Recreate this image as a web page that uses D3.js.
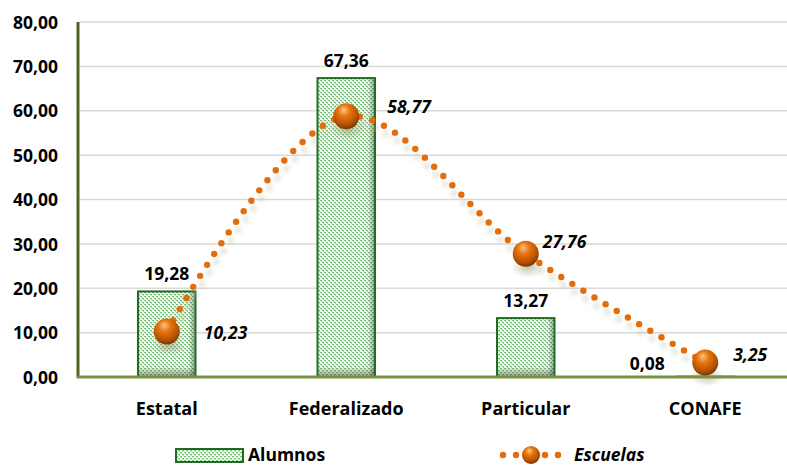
<!DOCTYPE html>
<html>
<head>
<meta charset="utf-8">
<script src="https://cdn.jsdelivr.net/npm/d3@7"></script>
<style>
  body { margin: 0; background: #fff; }
  svg text { font-family: "Open Sans", Lato, sans-serif; font-weight: bold; fill: #000; }
</style>
</head>
<body>
<div id="chart"></div>
<script>
(function(){

  var categories = ['Estatal', 'Federalizado', 'Particular', 'CONAFE'];
  var alumnos = [19.28, 67.36, 13.27, 0.08];
  var escuelas = [10.23, 58.77, 27.76, 3.25];
  var yTicks = [0, 10, 20, 30, 40, 50, 60, 70, 80];

  // where Excel put each "Escuelas" label, relative to its point
  var escLabelOffset = [[37, 7], [41, -3], [17, -6], [28, -2]];

  var fmt = function(v) { return d3.format('.2f')(v).replace('.', ','); };

  var width = 787, height = 467;
  var svg = d3.select('#chart')
    .append('svg')
    .attr('width', width)
    .attr('height', height);

  var defs = svg.append('defs');

  // bar texture
  var pat = defs.append('pattern')
    .attr('id', 'weave')
    .attr('patternUnits', 'userSpaceOnUse')
    .attr('width', 4)
    .attr('height', 4);
  pat.append('rect').attr('width', 4).attr('height', 4).attr('fill', '#eef7ee');
  pat.append('rect').attr('x', 0).attr('y', 0).attr('width', 2).attr('height', 1).attr('fill', '#7dbb7d');
  pat.append('rect').attr('x', 2).attr('y', 2).attr('width', 2).attr('height', 1).attr('fill', '#7dbb7d');
  pat.append('rect').attr('x', 1).attr('y', 1).attr('width', 1).attr('height', 1).attr('fill', '#b0d8b0');
  pat.append('rect').attr('x', 3).attr('y', 3).attr('width', 1).attr('height', 1).attr('fill', '#b0d8b0');

  var shade = defs.append('linearGradient')
    .attr('id', 'barShade').attr('x1', 0).attr('y1', 0).attr('x2', 0).attr('y2', 1);
  shade.append('stop').attr('offset', '0%').attr('stop-color', '#000').attr('stop-opacity', 0);
  shade.append('stop').attr('offset', '100%').attr('stop-color', '#000').attr('stop-opacity', 0.35);

  var side = defs.append('linearGradient')
    .attr('id', 'barSide').attr('x1', 0).attr('y1', 0).attr('x2', 1).attr('y2', 0);
  side.append('stop').attr('offset', '0%').attr('stop-color', '#000').attr('stop-opacity', 0);
  side.append('stop').attr('offset', '100%').attr('stop-color', '#000').attr('stop-opacity', 0.3);

  var ball = defs.append('radialGradient')
    .attr('id', 'ball').attr('cx', '45%').attr('cy', '35%').attr('r', '65%')
    .attr('fx', '40%').attr('fy', '25%');
  ball.append('stop').attr('offset', '0%').attr('stop-color', '#fbc58a');
  ball.append('stop').attr('offset', '35%').attr('stop-color', '#e8760f');
  ball.append('stop').attr('offset', '80%').attr('stop-color', '#b04f02');
  ball.append('stop').attr('offset', '100%').attr('stop-color', '#7a3500');

  var shadowGrad = defs.append('radialGradient').attr('id', 'ballShadow');
  shadowGrad.append('stop').attr('offset', '0%').attr('stop-color', '#8a8a5a').attr('stop-opacity', 0.45);
  shadowGrad.append('stop').attr('offset', '100%').attr('stop-color', '#8a8a5a').attr('stop-opacity', 0);

  var blur = defs.append('filter').attr('id', 'dotShadow')
    .attr('x', '-50%').attr('y', '-50%').attr('width', '200%').attr('height', '200%');
  blur.append('feGaussianBlur').attr('stdDeviation', 2);

  var x = d3.scaleBand()
    .domain(categories)
    .range([77, 795])
    .paddingInner(0.68)
    .paddingOuter(0.34);

  var y = d3.scaleLinear()
    .domain([0, 80])
    .range([377, 22]);

  var cx = function(d) { return x(d) + x.bandwidth() / 2; };

  // grid
  svg.append('g')
    .selectAll('line')
    .data(yTicks.slice(1))
    .enter()
    .append('line')
    .attr('x1', 79).attr('x2', width)
    .attr('y1', function(d) { return y(d); })
    .attr('y2', function(d) { return y(d); })
    .attr('stroke', '#d9d9d9')
    .attr('stroke-width', 1.5);

  // y axis
  var yAxis = svg.append('g')
    .attr('transform', 'translate(79,0)')
    .call(d3.axisLeft(y).tickValues(yTicks).tickFormat(fmt).tickSize(0).tickPadding(21));
  yAxis.select('.domain').remove();
  yAxis.selectAll('text').style('font-size', '17.5px').attr('dy', '0.35em');

  svg.append('line')
    .attr('x1', 78).attr('x2', 78)
    .attr('y1', 22).attr('y2', 378)
    .attr('stroke', '#4f6228').attr('stroke-width', 3);

  // bars
  var bars = svg.append('g');
  bars.selectAll('rect.bar')
    .data(alumnos)
    .enter()
    .append('rect')
    .attr('class', 'bar')
    .attr('x', function(d, i) { return x(categories[i]); })
    .attr('y', function(d) { return y(d); })
    .attr('width', x.bandwidth())
    .attr('height', function(d) { return y(0) - y(d); })
    .attr('fill', 'url(#weave)')
    .attr('stroke', '#1f6b1f')
    .attr('stroke-width', 2);
  bars.selectAll('rect.side')
    .data(alumnos)
    .enter()
    .append('rect')
    .attr('class', 'side')
    .attr('x', function(d, i) { return x(categories[i]) + x.bandwidth() - 7; })
    .attr('y', function(d) { return y(d) + 1; })
    .attr('width', 6)
    .attr('height', function(d) { return Math.max(0, y(0) - y(d) - 1); })
    .attr('fill', 'url(#barSide)');
  bars.selectAll('rect.shade')
    .data(alumnos)
    .enter()
    .append('rect')
    .attr('class', 'shade')
    .attr('x', function(d, i) { return x(categories[i]) + 1; })
    .attr('y', function(d) { return Math.max(y(d) + 1, y(0) - 10); })
    .attr('width', x.bandwidth() - 2)
    .attr('height', function(d) { return Math.min(10, Math.max(0, y(0) - y(d) - 1)); })
    .attr('fill', 'url(#barShade)');

  // x baseline
  svg.append('line')
    .attr('x1', 77).attr('x2', width)
    .attr('y1', y(0)).attr('y2', y(0))
    .attr('stroke', '#77933c').attr('stroke-width', 3);

  // x axis labels
  svg.append('g')
    .selectAll('text')
    .data(categories)
    .enter()
    .append('text')
    .attr('x', cx)
    .attr('y', 415)
    .attr('text-anchor', 'middle')
    .style('font-size', '18px')
    .text(function(d) { return d; });

  // bar value labels
  svg.append('g')
    .selectAll('text')
    .data(alumnos)
    .enter()
    .append('text')
    .attr('x', function(d, i) { return cx(categories[i]) + (i === 3 ? -58 : 0); })
    .attr('y', function(d, i) { return i === 3 ? 370 : y(d) - 11; })
    .attr('text-anchor', 'middle')
    .style('font-size', '17.5px')
    .text(fmt);

  // escuelas dotted smooth line
  var pts = escuelas.map(function(v, i) { return [cx(categories[i]), y(v)]; });
  var lineGen = d3.line().curve(d3.curveCatmullRom.alpha(0.5));
  var tmp = svg.append('path').attr('d', lineGen(pts)).attr('fill', 'none');
  var node = tmp.node();
  var len = node.getTotalLength();
  var dots = [];
  for (var s = 0; s <= len; s += 13) {
    var p = node.getPointAtLength(s);
    dots.push([p.x, p.y]);
  }
  tmp.remove();

  var dotG = svg.append('g');
  dotG.selectAll('circle.sh')
    .data(dots)
    .enter()
    .append('circle')
    .attr('cx', function(d) { return d[0] + 2; })
    .attr('cy', function(d) { return d[1] + 8; })
    .attr('r', 3.5)
    .attr('fill', '#b8b89a')
    .attr('opacity', 0.35)
    .attr('filter', 'url(#dotShadow)');
  dotG.selectAll('circle.dot')
    .data(dots)
    .enter()
    .append('circle')
    .attr('cx', function(d) { return d[0]; })
    .attr('cy', function(d) { return d[1]; })
    .attr('r', 3.2)
    .attr('fill', '#e46c0a');

  // spheres
  var balls = svg.append('g');
  balls.selectAll('ellipse')
    .data(escuelas)
    .enter()
    .append('ellipse')
    .attr('cx', function(d, i) { return cx(categories[i]) + 2; })
    .attr('cy', function(d) { return y(d) + 14; })
    .attr('rx', 17).attr('ry', 10)
    .attr('fill', 'url(#ballShadow)');
  balls.selectAll('circle')
    .data(escuelas)
    .enter()
    .append('circle')
    .attr('cx', function(d, i) { return cx(categories[i]); })
    .attr('cy', function(d) { return y(d); })
    .attr('r', 13)
    .attr('fill', 'url(#ball)');

  // escuelas labels
  svg.append('g')
    .selectAll('text')
    .data(escuelas)
    .enter()
    .append('text')
    .attr('x', function(d, i) { return cx(categories[i]) + escLabelOffset[i][0]; })
    .attr('y', function(d, i) { return y(d) + escLabelOffset[i][1]; })
    .style('font-size', '17.5px')
    .style('font-style', 'italic')
    .text(fmt);

  // legend
  var leg = svg.append('g');
  leg.append('rect')
    .attr('x', 176).attr('y', 449).attr('width', 67).attr('height', 13)
    .attr('fill', 'url(#weave)').attr('stroke', '#1f6b1f').attr('stroke-width', 2);
  leg.append('text')
    .attr('x', 248).attr('y', 461)
    .style('font-size', '17.5px')
    .text('Alumnos');

  var legDots = [503, 516, 545, 558];
  leg.selectAll('circle.ld')
    .data(legDots)
    .enter()
    .append('circle')
    .attr('cx', function(d) { return d; })
    .attr('cy', 455)
    .attr('r', 3.2)
    .attr('fill', '#e46c0a');
  leg.append('circle')
    .attr('cx', 531).attr('cy', 455).attr('r', 9)
    .attr('fill', 'url(#ball)');
  leg.append('text')
    .attr('x', 574).attr('y', 461)
    .style('font-size', '17.5px')
    .style('font-style', 'italic')
    .text('Escuelas');

})();
</script>
</body>
</html>
